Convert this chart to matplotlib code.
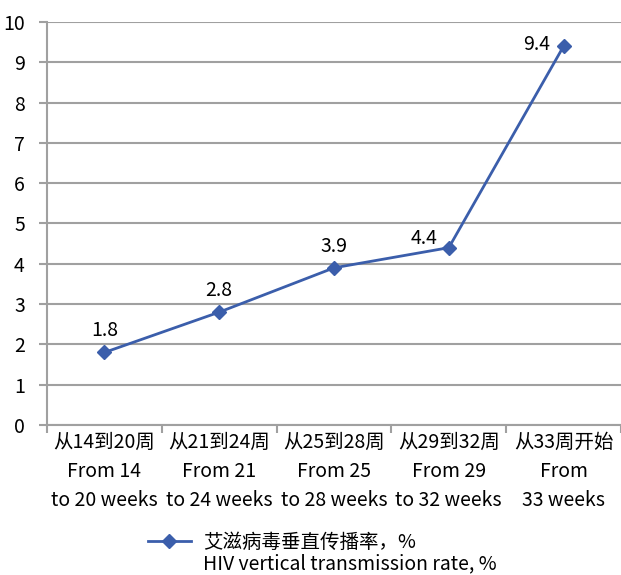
import numpy as np
import matplotlib.pyplot as plt
from matplotlib.lines import Line2D

plt.rcParams['font.family'] = ['Noto Sans CJK SC', 'DejaVu Sans']

# data
cats_cn = ['从14到20周', '从21到24周', '从25到28周', '从29到32周', '从33周开始']
cats_en = ['From 14\nto 20 weeks', 'From 21\nto 24 weeks', 'From 25\nto 28 weeks',
           'From 29\nto 32 weeks', 'From\n33 weeks']
rate = [1.8, 2.8, 3.9, 4.4, 9.4]
series_cn = '艾滋病毒垂直传播率，%'
series_en = 'HIV vertical transmission rate, %'

blue = '#3B5EAB'
grid = '#A0A0A0'
fs = 14

fig = plt.figure(figsize=(6.21, 5.75), dpi=100)
ax = fig.add_axes([47 / 621, 1 - 425 / 575, 1 - 47 / 621, (425 - 22) / 575])

x = np.arange(len(rate))
ax.plot(x, rate, color=blue, lw=2, marker='D', ms=7, zorder=3, clip_on=False)

# label placement per point (last two sit beside the steep segment)
for i, v in enumerate(rate):
    if i == 4:
        ax.annotate(f'{v}', (x[i], v), xytext=(-10, 1), textcoords='offset points',
                    ha='right', va='center', fontsize=fs)
    elif i == 3:
        ax.annotate(f'{v}', (x[i], v), xytext=(-8, -1), textcoords='offset points',
                    ha='right', va='bottom', fontsize=fs)
    else:
        ax.annotate(f'{v}', (x[i], v), xytext=(0, 8), textcoords='offset points',
                    ha='center', va='bottom', fontsize=fs)

ax.set_xlim(-0.5, len(rate) - 0.5)
ax.set_ylim(0, 10)
ax.set_yticks(range(0, 11))
ax.yaxis.grid(True, color=grid, lw=1.5)
ax.set_axisbelow(True)

ax.set_xticks(x)
ax.set_xticklabels([c + '\n' + e for c, e in zip(cats_cn, cats_en)],
                   fontsize=fs, linespacing=1.5)
ax.set_xticks(np.arange(-0.5, len(rate)), minor=True)
ax.tick_params(axis='x', which='major', length=0, pad=5)
ax.tick_params(axis='x', which='minor', length=6, width=1.5, color=grid)
ax.tick_params(axis='y', length=6, width=1.5, color=grid, labelsize=fs, pad=10)

for s in ['top', 'right']:
    ax.spines[s].set_visible(False)
for s in ['left', 'bottom']:
    ax.spines[s].set_color(grid)
    ax.spines[s].set_linewidth(1.5)

# legend
h = Line2D([], [], color=blue, lw=2, marker='D', ms=7)
fig.legend([h], [series_cn], loc='center left', bbox_to_anchor=(148 / 621, 1 - 542 / 575),
           frameon=False, fontsize=fs, handlelength=2.2, handletextpad=0.65,
           borderaxespad=0, borderpad=0)
fig.text(203 / 621, 1 - 564 / 575, series_en, fontsize=fs, va='center', ha='left')

fig.savefig('out.png', dpi=100)
